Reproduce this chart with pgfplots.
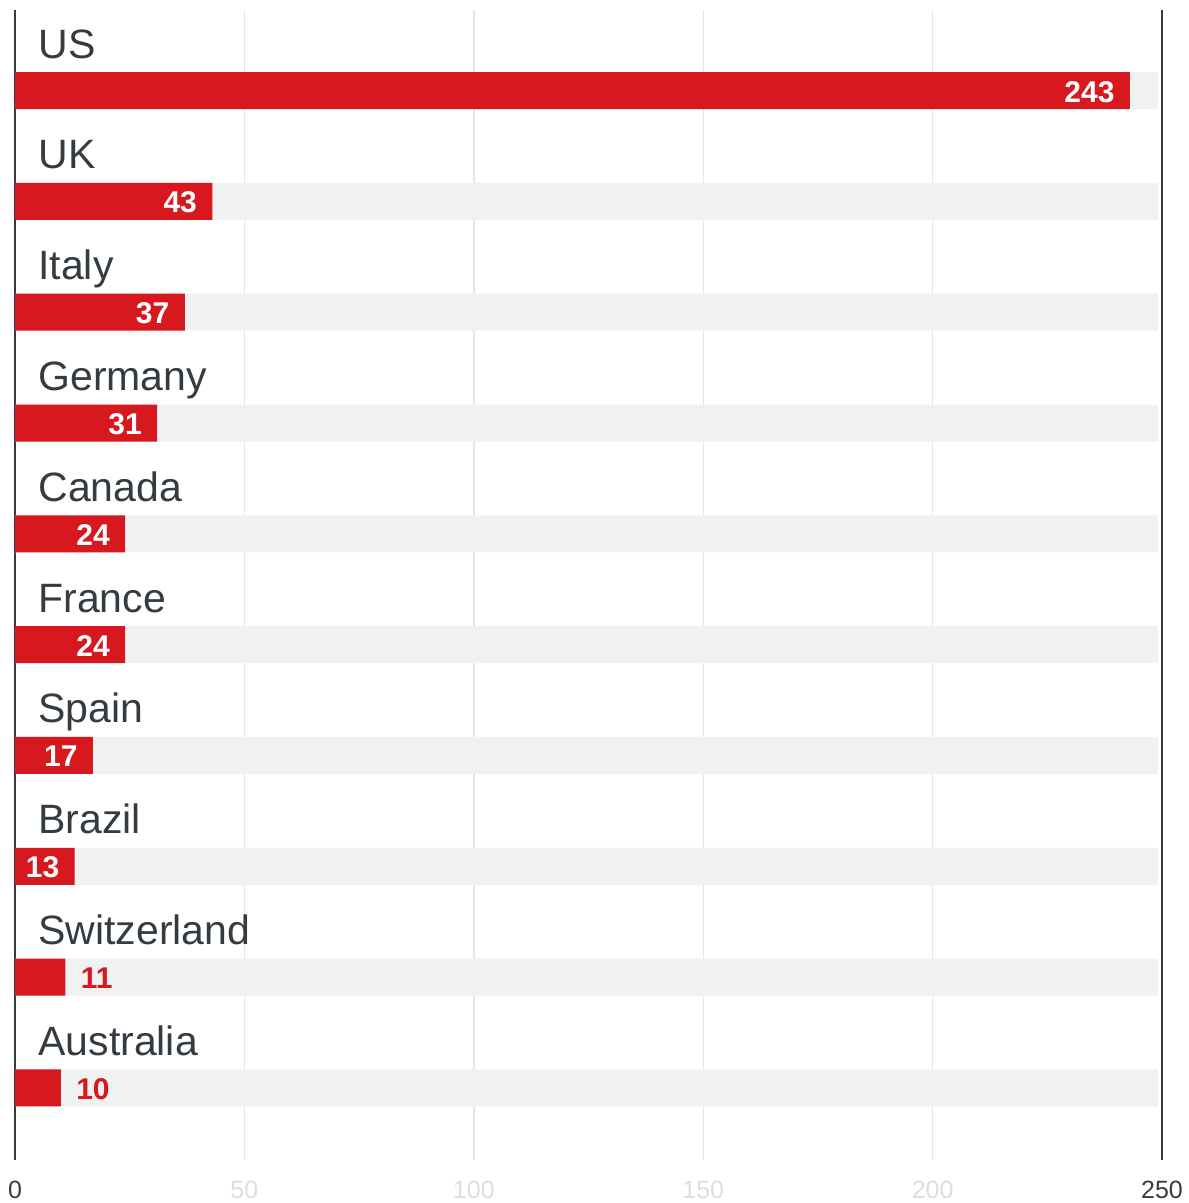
\documentclass[border=0pt]{standalone}
\usepackage{fontspec}
\setmainfont{Liberation Sans}
\usepackage{pgfplots}
\pgfplotsset{compat=1.18}
\definecolor{barred}{HTML}{D7191F}
\definecolor{bggray}{HTML}{F0F1F1}
\definecolor{txt}{HTML}{343C42}
\definecolor{gridc}{HTML}{E6E6E6}
\definecolor{ticklight}{HTML}{DCDDDE}
\begin{document}
\begin{tikzpicture}
\begin{axis}[name=ax, scale only axis, width=573.5pt, height=575pt,
 xmin=0, xmax=250, ymin=-0.65, ymax=9.727,
 axis line style={draw=none}, major tick length=0pt,
 ytick=\empty,
 xtick={50,100,150,200},
 xmajorgrids, major grid style={gridc, line width=0.7pt},
 extra x ticks={0,250},
 extra x tick style={major grid style={txt, line width=1.2pt}, xticklabel style={text=txt}},
 xticklabel style={anchor=base, yshift=-19.3pt, font=\fontsize{12.5}{15}\selectfont, text=ticklight, inner sep=0pt},
 /pgf/number format/assume math mode=true,
 xbar, bar width=18.5pt, bar shift=0pt,
 clip=false,
]
\addplot[fill=bggray, draw=none] coordinates {(249.1,9) (249.1,8) (249.1,7) (249.1,6) (249.1,5) (249.1,4) (249.1,3) (249.1,2) (249.1,1) (249.1,0)};
\addplot[fill=barred, draw=none, point meta=x, nodes near coords,
  nodes near coords style={anchor=base east, xshift=-7.5pt, yshift=-5.75pt, inner sep=0pt, text=white, font=\fontsize{15}{16}\selectfont\bfseries}]
  coordinates {(243,9) (43,8) (37,7) (31,6) (24,5) (24,4) (17,3) (13,2)};
\addplot[fill=barred, draw=none, point meta=x, nodes near coords,
  nodes near coords style={anchor=base west, xshift=7.5pt, yshift=-5.75pt, inner sep=0pt, text=barred, font=\fontsize{15}{16}\selectfont\bfseries}]
  coordinates {(11,1) (10,0)};
\foreach \lab/\k in {US/9, UK/8, Italy/7, Germany/6, Canada/5, France/4, Spain/3, Brazil/2, Switzerland/1, Australia/0}{
  \edef\tmp{\noexpand\node[anchor=base west, text=txt, font=\noexpand\fontsize{20.5}{24}\noexpand\selectfont, inner sep=0pt] at ([xshift=11.5pt,yshift=16.25pt]axis cs:0,\k) {\lab};}
  \tmp
}
\end{axis}
\pgfresetboundingbox
\path ([shift={(-7.5pt,-21.5pt)}]ax.south west) rectangle ([shift={(13pt,5pt)}]ax.north east);
\end{tikzpicture}
\end{document}
